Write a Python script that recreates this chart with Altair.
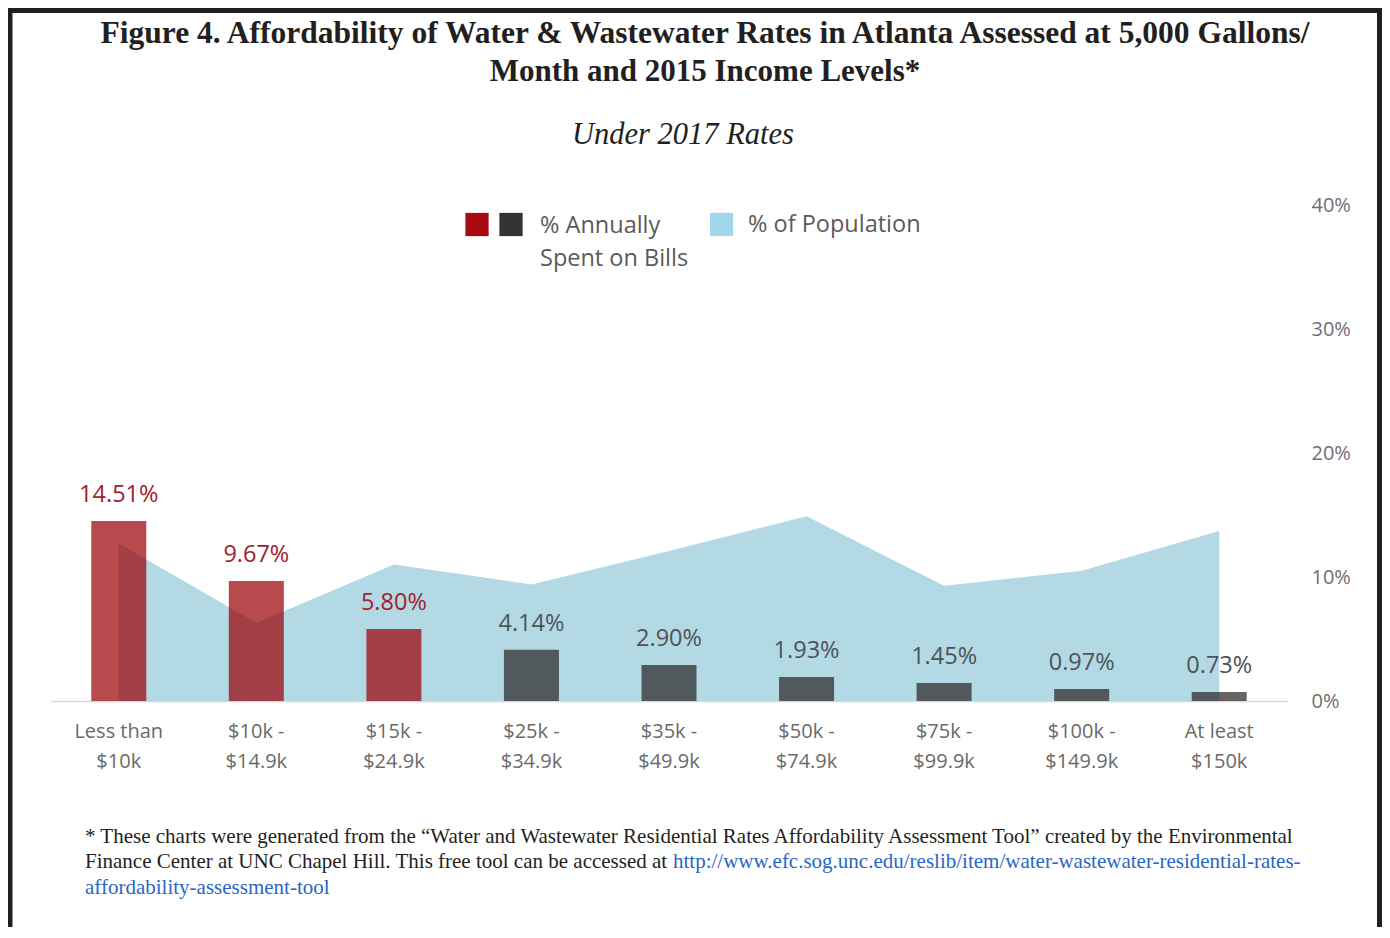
import altair as alt
import pandas as pd

# ---- data ----
categories = ["Less than|$10k", "$10k -|$14.9k", "$15k -|$24.9k", "$25k -|$34.9k",
              "$35k -|$49.9k", "$50k -|$74.9k", "$75k -|$99.9k", "$100k -|$149.9k",
              "At least|$150k"]
pct_spent = [14.51, 9.67, 5.80, 4.14, 2.90, 1.93, 1.45, 0.97, 0.73]
pct_population = [12.7, 6.3, 11.0, 9.4, 12.1, 14.9, 9.3, 10.5, 13.7]
groups = ["high", "high", "high", "low", "low", "low", "low", "low", "low"]
y_ticks = [0, 10, 20, 30, 40]

title_lines = ["Figure 4. Affordability of Water & Wastewater Rates in Atlanta Assessed at 5,000 Gallons/",
               "Month and 2015 Income Levels*"]
subtitle = "Under 2017 Rates"
foot_line1 = "* These charts were generated from the \u201cWater and Wastewater Residential Rates Affordability Assessment Tool\u201d created by the Environmental"
foot_line2 = "Finance Center at UNC Chapel Hill. This free tool can be accessed at "
foot_link1 = "http://www.efc.sog.unc.edu/reslib/item/water-wastewater-residential-rates-"
foot_link2 = "affordability-assessment-tool"

df = pd.DataFrame({
    "cat": categories,
    "spent": pct_spent,
    "pop": pct_population,
    "group": groups,
    "label": [f"{v:.2f}%" for v in pct_spent],
})

RED = "#9B0005"
DARK = "#2A2426"
BLUE = "#B3D9E4"
SANS = "Open Sans"
SERIF = "Liberation Serif"

x_enc = alt.X("cat:N", sort=categories,
              scale=alt.Scale(paddingInner=0.6, paddingOuter=0.3),
              axis=alt.Axis(title="", labelAngle=0, ticks=False, domain=True,
                            domainColor="#d9d9d9", domainWidth=1.5,
                            labelExpr="split(datum.label, '|')",
                            labelFont=SANS, labelFontSize=20, labelColor="#6a6a6a",
                            labelLineHeight=30, labelBaseline="top", labelPadding=20))
y_scale = alt.Scale(domain=[0, 40], nice=False)

area = alt.Chart(df).mark_area(color=BLUE, opacity=1).encode(
    x=x_enc,
    y=alt.Y("pop:Q", scale=y_scale,
            axis=alt.Axis(title="", orient="right", values=y_ticks, grid=False,
                          domain=False, ticks=False, labelPadding=23,
                          labelExpr="datum.value + '%'", labelFont=SANS,
                          labelFontSize=20, labelColor="#6f6f6f")),
)

bars = alt.Chart(df).mark_bar(opacity=0.71).encode(
    x=alt.X("cat:N", sort=categories),
    y=alt.Y("spent:Q", scale=y_scale),
    color=alt.condition(alt.datum.group == "high", alt.value(RED), alt.value(DARK)),
)

labels = alt.Chart(df).mark_text(dy=-19, baseline="alphabetic", font=SANS, fontSize=23.5).encode(
    x=alt.X("cat:N", sort=categories),
    y=alt.Y("spent:Q", scale=y_scale),
    text="label:N",
    color=alt.condition(alt.datum.group == "high", alt.value("#A3202D"), alt.value("#4d5358")),
)

# ---- annotation texts ----
def text_layer(txt, x, y, **kw):
    d = pd.DataFrame({"t": [txt]})
    return alt.Chart(d).mark_text(**kw).encode(x=alt.value(x), y=alt.value(y), text="t:N")

title1 = text_layer(title_lines[0], 655, -162, font=SERIF, fontSize=31.5, fontWeight="bold",
                    align="center", baseline="alphabetic", color="#231F20")
title2 = text_layer(title_lines[1], 655, -124, font=SERIF, fontSize=31, fontWeight="bold",
                    align="center", baseline="alphabetic", color="#231F20")
sub = text_layer(subtitle, 633, -61, font=SERIF, fontSize=30.5, fontStyle="italic",
                 align="center", baseline="alphabetic", color="#231F20")

leg_t1 = text_layer("% Annually", 490, 28, font=SANS, fontSize=23.5, align="left",
                    baseline="alphabetic", color="#5a5a5a")
leg_t2 = text_layer("Spent on Bills", 490, 61, font=SANS, fontSize=23.5, align="left",
                    baseline="alphabetic", color="#5a5a5a")
leg_t3 = text_layer("% of Population", 698, 27, font=SANS, fontSize=23.5, align="left",
                    baseline="alphabetic", color="#5a5a5a")

def square(x, color):
    d = pd.DataFrame({"a": [0]})
    return alt.Chart(d).mark_square(size=540, opacity=1, color=color).encode(
        x=alt.value(x), y=alt.value(19.5))

sq_red = square(427, "#AA0A12")
sq_dark = square(461, "#333333")
sq_blue = square(671.5, "#A0D8EA")

foot1 = text_layer(foot_line1, 35, 638, font=SERIF, fontSize=21, align="left",
                   baseline="alphabetic", color="#231F20")
foot2 = text_layer(foot_line2, 35, 663, font=SERIF, fontSize=21, align="left",
                   baseline="alphabetic", color="#231F20")
foot2b = text_layer(foot_link1, 623, 663, font=SERIF, fontSize=21, align="left",
                    baseline="alphabetic", color="#2A66C9")
foot3 = text_layer(foot_link2, 35, 689, font=SERIF, fontSize=21, align="left",
                   baseline="alphabetic", color="#2A66C9")

# ---- frame ----
one = pd.DataFrame({"a": [0]})
frame_left = alt.Chart(one).mark_rule(color="#231F20", strokeWidth=5).encode(
    x=alt.value(-40), y=alt.value(-197), y2=alt.value(722))
frame_right = alt.Chart(one).mark_rule(color="#231F20", strokeWidth=5).encode(
    x=alt.value(1329.5), y=alt.value(-197), y2=alt.value(722))
frame_top = alt.Chart(one).mark_rule(color="#231F20", strokeWidth=5).encode(
    x=alt.value(-42), x2=alt.value(1332), y=alt.value(-194.5))

chart = alt.layer(
    area, bars, labels,
    title1, title2, sub,
    sq_red, sq_dark, sq_blue, leg_t1, leg_t2, leg_t3,
    foot1, foot2, foot2b, foot3,
    frame_left, frame_right, frame_top,
).properties(
    width=1238, height=496,
    padding={"left": 42, "top": 197, "right": 94, "bottom": 226},
    autosize=alt.AutoSizeParams(type="none"),
    background="white",
).configure_view(strokeWidth=0)

chart.save("out.html", embed_options={"renderer": "svg", "actions": False})
